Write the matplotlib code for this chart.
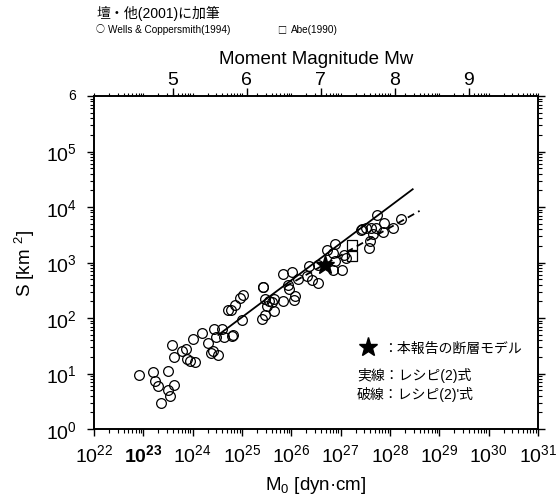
# -*- coding: utf-8 -*-
import matplotlib
matplotlib.use('Agg')
import matplotlib.pyplot as plt
import numpy as np
from matplotlib.ticker import LogLocator, NullFormatter, FixedLocator

plt.rcParams['font.family'] = ['Liberation Sans', 'Noto Sans CJK JP']
plt.rcParams['mathtext.fontset'] = 'custom'
plt.rcParams['mathtext.rm'] = 'Liberation Sans'
plt.rcParams['mathtext.it'] = 'Liberation Sans:italic'
plt.rcParams['mathtext.bf'] = 'Liberation Sans:bold'

# Wells & Coppersmith(1994): log10 M0 [dyn*cm], log10 S [km^2]
wc_logm0 = [22.91, 23.20, 23.24, 23.30, 23.50, 23.49, 23.54, 23.62, 23.36,
            23.58, 23.63, 23.79, 23.86, 23.89, 23.95, 24.04, 24.00, 24.19,
            24.32, 24.38, 24.42, 24.51, 24.43, 24.47, 24.64, 24.80, 24.81,
            24.59, 24.72, 24.77, 24.86, 24.96, 25.03, 25.00, 25.42, 25.43,
            25.47, 25.54, 25.60, 25.50, 25.64, 25.64, 25.41, 25.47, 25.83,
            26.06, 26.07, 25.96, 25.93, 25.84, 26.01, 26.14, 26.42, 26.55,
            26.36, 26.55, 26.32, 26.73, 26.89, 26.85, 26.88, 26.84, 27.03,
            27.06, 27.10, 27.42, 27.43, 27.52, 27.62, 27.74, 27.88, 27.71,
            27.86, 28.07, 28.22, 27.60, 27.58, 27.66]
wc_logs = [0.97, 1.02, 0.87, 0.78, 1.04, 0.70, 0.60, 0.80, 0.47,
           1.51, 1.30, 1.40, 1.44, 1.26, 1.22, 1.21, 1.62, 1.73,
           1.55, 1.37, 1.41, 1.33, 1.80, 1.65, 1.65, 1.68, 1.69,
           1.81, 2.15, 2.14, 2.23, 2.36, 2.42, 1.97, 2.55, 2.56,
           2.34, 2.31, 2.28, 2.22, 2.34, 2.13, 1.98, 2.06, 2.30,
           2.32, 2.40, 2.53, 2.60, 2.79, 2.83, 2.70, 2.69, 2.63,
           2.94, 2.95, 2.76, 3.23, 3.33, 3.18, 3.03, 2.87, 2.87,
           3.14, 3.08, 3.59, 3.60, 3.63, 3.63, 3.86, 3.72, 3.62,
           3.55, 3.63, 3.78, 3.39, 3.27, 3.51]

# Abe(1990)
abe_logm0 = [27.23, 27.23]
abe_logs = [3.32, 3.11]

# fault model of this report
star_logm0 = [26.68]
star_logs = [2.96]

# recipe (2) solid, recipe (2)' dashed: end points
solid_logm0 = [24.52, 28.46]
solid_logs = [1.695, 4.32]
dash_logm0 = [25.875, 28.60]
dash_logs = [2.565, 3.93]

mw_ticks = [5, 6, 7, 8, 9]

fig = plt.figure(figsize=(5.6, 5.02), dpi=100)
ax = fig.add_axes([94 / 560, 1 - 430 / 502, 444 / 560, 333 / 502])

ax.plot(10 ** np.array(wc_logm0), 10 ** np.array(wc_logs), 'o', mfc='none',
        mec='black', mew=0.9, ms=7)
ax.plot(10 ** np.array(abe_logm0), 10 ** np.array(abe_logs), 's', mfc='none',
        mec='black', mew=0.9, ms=6.5)
ax.plot(10 ** np.array(solid_logm0), 10 ** np.array(solid_logs), '-',
        color='black', lw=1.3)
ax.plot(10 ** np.array(dash_logm0), 10 ** np.array(dash_logs), '--',
        color='black', lw=1.3, dashes=(4, 2.5))
ax.plot(10 ** np.array(star_logm0), 10 ** np.array(star_logs), '*',
        color='black', ms=14)

ax.set_xscale('log')
ax.set_yscale('log')
ax.set_xlim(1e22, 1e31)
ax.set_ylim(1e0, 1e6)

xt = [10.0 ** k for k in range(22, 32)]
ax.set_xticks(xt)
xl = ['$10^{%d}$' % k for k in range(22, 32)]
xl[1] = r'$\mathbf{10^{23}}$'
ax.set_xticklabels(xl)
yt = [10.0 ** k for k in range(0, 7)]
ax.set_yticks(yt)
ax.set_yticklabels(['$10^{%d}$' % k for k in range(0, 6)] + [''])
ax.xaxis.set_minor_locator(LogLocator(base=10, subs=np.arange(2, 10), numticks=20))
ax.yaxis.set_minor_locator(LogLocator(base=10, subs=np.arange(2, 10), numticks=20))
ax.xaxis.set_minor_formatter(NullFormatter())
ax.yaxis.set_minor_formatter(NullFormatter())
ax.tick_params(which='major', direction='out', length=5.2, width=1.0,
               labelsize=14, top=False, right=True)
ax.tick_params(which='minor', direction='out', length=2.6, width=0.8,
               top=False, right=True)
ax.tick_params(axis='x', pad=5)
ax.tick_params(axis='y', pad=7)
for s in ax.spines.values():
    s.set_linewidth(1.2)

ax.set_xlabel('M$_0$ [dyn·cm]', fontsize=13.5)
ax.xaxis.set_label_coords(0.5, -0.135)
ax.set_ylabel('S [km $^{2}$]', fontsize=13.5)
ax.yaxis.set_label_coords(-0.128, 0.5)

# top axis: moment magnitude
ax2 = ax.twiny()
ax2.set_xscale('log')
ax2.set_xlim(ax.get_xlim())
ax2.xaxis.set_major_locator(FixedLocator([10 ** (1.5 * m + 16.1) for m in mw_ticks]))
ax2.set_xticklabels([str(m) for m in mw_ticks])
ax2.xaxis.set_minor_locator(LogLocator(base=10, subs=np.arange(1, 10), numticks=20))
ax2.xaxis.set_minor_formatter(NullFormatter())
ax2.tick_params(which='major', direction='out', length=5.8, width=1.0,
                labelsize=14, pad=0)
ax2.tick_params(which='minor', direction='out', length=2.2, width=0.8)
ax2.set_xlabel('Moment Magnitude Mw', fontsize=13.5)
ax2.xaxis.set_label_coords(0.5, 1.098)
for s in ax2.spines.values():
    s.set_linewidth(1.2)

fig.text(71.7 / 560, 1 - 96 / 502, '6', fontsize=10, ha='center', va='center')

# legend notes inside the plot
ax.plot([0.618], [0.245], '*', color='black', ms=14, transform=ax.transAxes,
        clip_on=False)
ax.text(0.652, 0.245, '：本報告の断層モデル', transform=ax.transAxes,
        fontsize=10, va='center', ha='left')
ax.text(0.592, 0.165, '実線：レシピ(2)式', transform=ax.transAxes,
        fontsize=10, va='center', ha='left')
ax.text(0.592, 0.108, "破線：レシピ(2)'式", transform=ax.transAxes,
        fontsize=10, va='center', ha='left')

# header
fig.text(97 / 560, 1 - 13 / 502, '壇・他(2001)に加筆', fontsize=10,
         ha='left', va='center')
fig.text(96 / 560, 1 - 30 / 502, '○', fontsize=6.5, family='Noto Sans CJK JP',
         ha='left', va='center')
fig.text(108 / 560, 1 - 30 / 502, 'Wells & Coppersmith(1994)', fontsize=7.2,
         ha='left', va='center')
fig.text(277 / 560, 1 - 30 / 502, '□', fontsize=6.5, family='Noto Sans CJK JP',
         ha='left', va='center')
fig.text(291 / 560, 1 - 30 / 502, 'Abe(1990)', fontsize=7.2,
         ha='left', va='center')

fig.savefig('out.png', dpi=100)
